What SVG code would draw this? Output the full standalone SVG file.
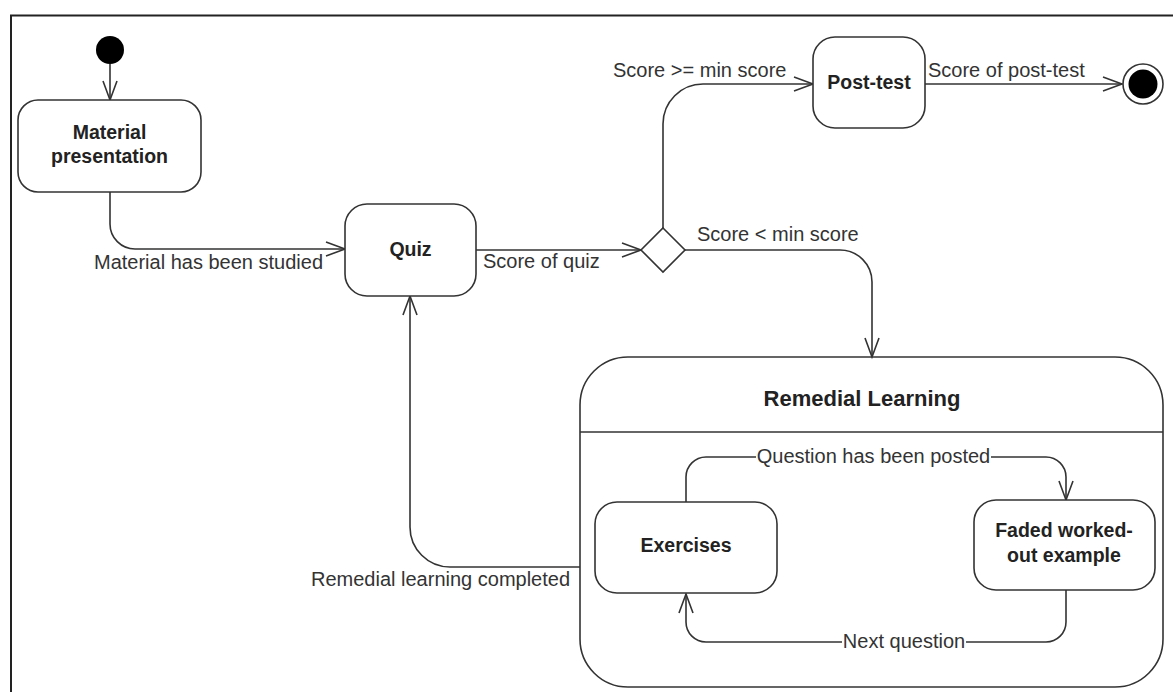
<svg xmlns="http://www.w3.org/2000/svg" width="1173" height="692" viewBox="0 0 1173 692">
<style>
.frame{stroke:#222;stroke-width:2;fill:none}
.box{fill:#fff;stroke:#333;stroke-width:1.6}
.conn{fill:none;stroke:#333;stroke-width:1.6}
.nt{font-family:"Liberation Sans",Arial,sans-serif;font-weight:bold;font-size:19.5px;fill:#222;text-anchor:middle}
.tt{font-family:"Liberation Sans",Arial,sans-serif;font-weight:bold;font-size:22px;fill:#222;text-anchor:middle}
.lb{font-family:"Liberation Sans",Arial,sans-serif;font-size:20px;fill:#333}
</style>
<defs>
<marker id="arr" markerUnits="userSpaceOnUse" markerWidth="22" markerHeight="16" viewBox="0 0 22 16" refX="20" refY="8" orient="auto" overflow="visible">
<path d="M1,1 L20,8 L1,15" fill="none" stroke="#333" stroke-width="1.6"/>
</marker>
</defs>
<rect width="1173" height="692" fill="#fff"/>
<path class="frame" d="M11,692 V15.5 H1173"/>

<g id="connectors">
<path class="conn" d="M110,64 V100" marker-end="url(#arr)"/>
<path class="conn" d="M110,192 V224 A25,25 0 0 0 135,249 H345" marker-end="url(#arr)"/>
<path class="conn" d="M476,250 H641" marker-end="url(#arr)"/>
<path class="conn" d="M663,228 V124 A40,40 0 0 1 703,84 H813" marker-end="url(#arr)"/>
<path class="conn" d="M925,84 H1122" marker-end="url(#arr)"/>
<path class="conn" d="M685,250 H840 A32,32 0 0 1 872,282 V357" marker-end="url(#arr)"/>
<path class="conn" d="M580,567 H450 A40,40 0 0 1 410,527 V296" marker-end="url(#arr)"/>
<path class="conn" d="M686,502 V477 A20,20 0 0 1 706,457 H1046 A20,20 0 0 1 1066,477 V500" marker-end="url(#arr)"/>
<path class="conn" d="M1066,590 V622 A20,20 0 0 1 1046,642 H706 A20,20 0 0 1 686,622 V594" marker-end="url(#arr)"/>
<text class="lb" x="94" y="269">Material has been studied</text>
<text class="lb" x="483" y="268">Score of quiz</text>
<text class="lb" x="613" y="77">Score &gt;= min score</text>
<text class="lb" x="928" y="77">Score of post-test</text>
<text class="lb" x="697" y="241">Score &lt; min score</text>
<text class="lb" x="311" y="586">Remedial learning completed</text>
<rect x="756" y="446" width="235" height="22" fill="#fff"/>
<text class="lb" x="873.5" y="463" text-anchor="middle">Question has been posted</text>
<rect x="842" y="631" width="124" height="22" fill="#fff"/>
<text class="lb" x="904" y="648" text-anchor="middle">Next question</text>
</g>

<g id="initial">
<circle cx="110" cy="50" r="14" fill="#000"/>
</g>
<g id="material">
<rect class="box" x="18" y="100" width="183" height="92" rx="20"/>
<text class="nt" x="109.5" y="139">Material</text>
<text class="nt" x="109.5" y="163">presentation</text>
</g>
<g id="quiz">
<rect class="box" x="345" y="204" width="131" height="92" rx="22"/>
<text class="nt" x="410.5" y="256">Quiz</text>
</g>
<g id="decision">
<polygon class="box" points="663,228 685,250 663,272 641,250"/>
</g>
<g id="posttest">
<rect class="box" x="813" y="37" width="112" height="91" rx="22"/>
<text class="nt" x="869" y="89">Post-test</text>
</g>
<g id="final">
<circle cx="1143" cy="84" r="20" fill="#fff" stroke="#333" stroke-width="1.6"/>
<circle cx="1143" cy="84" r="14.5" fill="#000"/>
</g>
<g id="remedial">
<rect class="box" x="580" y="357" width="583" height="330" rx="48" fill="none" style="fill:none"/>
<line x1="580" y1="432" x2="1163" y2="432" stroke="#333" stroke-width="1.6"/>
<text class="tt" x="862" y="406">Remedial Learning</text>
</g>
<g id="exercises">
<rect class="box" x="595" y="502" width="182" height="91" rx="22"/>
<text class="nt" x="686" y="552">Exercises</text>
</g>
<g id="faded">
<rect class="box" x="974" y="500" width="181" height="90" rx="22"/>
<text class="nt" x="1064" y="537">Faded worked-</text>
<text class="nt" x="1064" y="562">out example</text>
</g>
</svg>
